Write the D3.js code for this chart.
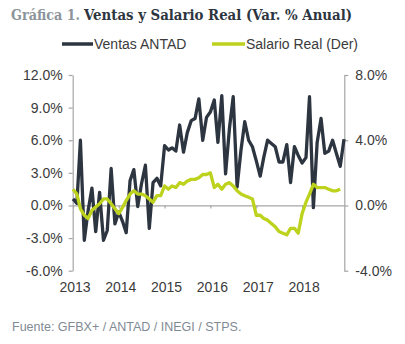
<!DOCTYPE html>
<html>
<head>
<meta charset="utf-8">
<script src="https://cdn.jsdelivr.net/npm/d3@7"></script>
<style>
  html, body { margin: 0; padding: 0; background: #ffffff; }
  svg { display: block; }
</style>
</head>
<body>
<svg id="chart" width="405" height="344"></svg>
<script>
// Monthly series, Jan 2013 onward (% annual change)
const startMonth = new Date(2013, 0, 1);

const ventasANTAD = [
  0.6, 0.2, 6.0, -3.2, -0.5, 1.6, -2.4, 1.2, -3.2, -2.3, 3.4, -1.7,
  -0.6, -1.5, -2.5, 2.3, 3.3, -0.1, 2.0, 3.7, -2.1, 2.1, 2.5, 1.8,
  5.5, 5.1, 5.3, 5.0, 7.4, 4.9, 6.7, 7.8, 8.0, 9.8, 6.0, 8.1,
  8.6, 9.7, 5.8, 10.1, 2.9, 7.1, 10.0, 1.7, 5.1, 7.7, 6.0, 5.4,
  4.1, 2.7, 4.4, 6.0, 5.7, 5.4, 4.0, 4.0, 5.6, 2.1, 5.4, 4.6,
  3.9, 4.4, 10.0, -0.2, 5.8, 8.0, 4.8, 5.0, 6.0, 4.8, 3.6, 6.1
];

const salarioReal = [
  1.0, 0.7, -0.2, -0.6, -0.8, -0.3, -0.1, 0.1, 0.4, 0.4, 0.1, -0.2,
  -0.5, -0.1, 0.3, 0.7, 0.9, 0.7, 0.7, 0.6, 0.4, 0.2, 0.6, 0.6,
  1.2, 1.0, 1.2, 1.1, 1.4, 1.3, 1.5, 1.6, 1.6, 1.7, 1.9, 1.9,
  2.0, 1.1, 1.3, 1.0, 1.3, 1.4, 1.2, 0.9, 0.7, 0.6, 0.5, 0.4,
  -0.6, -0.6, -0.8, -0.9, -1.1, -1.3, -1.6, -1.7, -1.8, -1.4, -1.4, -1.7,
  -0.5, 0.2, 0.7, 1.3, 1.1, 1.1, 1.1, 1.0, 0.9, 0.9, 1.0
];

const leftTicks = [-6, -3, 0, 3, 6, 9, 12];
const rightTicks = [-4, 0, 4, 8];
const yearLabels = [2013, 2014, 2015, 2016, 2017, 2018];

const seriesNames = ["Ventas ANTAD", "Salario Real (Der)"];
const titleLead = "Gráfica 1.";
const titleMain = "Ventas y Salario Real (Var. % Anual)";
const sourceText = "Fuente: GFBX+ / ANTAD / INEGI / STPS.";

const colDark = "#2d3540";
const colGreen = "#bcd21c";
const colAxis = "#a6a6a6";
const colText = "#3b3b3b";
const sansFont = "'Liberation Sans', Arial, sans-serif";
const serifFont = "'DejaVu Serif', 'Liberation Serif', serif";

const svg = d3.select("#chart");

const monthDate = i => d3.timeMonth.offset(startMonth, i);

const x = d3.scaleTime()
  .domain([startMonth, monthDate(71)])
  .range([73, 344]);
const yL = d3.scaleLinear().domain([-6, 12]).range([270.7, 75]);
const yR = d3.scaleLinear().domain([-4, 8]).range([270.7, 75]);

const pctFmt = d => d.toFixed(1) + "%";

// Title: grey lead-in followed by the dark main heading
svg.append("text")
  .attr("x", 11).attr("y", 20)
  .attr("font-family", serifFont)
  .attr("font-weight", "bold")
  .attr("font-size", 15)
  .attr("fill", "#8b949a")
  .attr("textLength", 69)
  .attr("lengthAdjust", "spacingAndGlyphs")
  .text(titleLead);
svg.append("text")
  .attr("x", 84).attr("y", 20)
  .attr("font-family", serifFont)
  .attr("font-weight", "bold")
  .attr("font-size", 15)
  .attr("fill", "#2d3540")
  .attr("textLength", 268)
  .attr("lengthAdjust", "spacingAndGlyphs")
  .text(titleMain);

// Legend
const legend = svg.append("g").attr("font-family", sansFont).attr("font-size", 14).attr("fill", colText);
const legendItems = [
  { name: seriesNames[0], color: colDark, x0: 62, x1: 93 },
  { name: seriesNames[1], color: colGreen, x0: 212, x1: 245 }
];
legendItems.forEach(it => {
  legend.append("line")
    .attr("x1", it.x0).attr("x2", it.x1)
    .attr("y1", 44).attr("y2", 44)
    .attr("stroke", it.color).attr("stroke-width", 3.5);
  legend.append("text")
    .attr("x", it.x1 + 1).attr("y", 49)
    .text(it.name);
});

// Left axis
const axL = svg.append("g")
  .attr("transform", "translate(72.7,0)")
  .call(d3.axisLeft(yL).tickValues(leftTicks).tickFormat(pctFmt).tickSize(4).tickSizeOuter(0).tickPadding(6));

// Right axis
const axR = svg.append("g")
  .attr("transform", "translate(344.3,0)")
  .call(d3.axisRight(yR).tickValues(rightTicks).tickFormat(pctFmt).tickSize(4).tickSizeOuter(0).tickPadding(7));

[axL, axR].forEach(ax => {
  ax.select(".domain").attr("stroke", colAxis).attr("stroke-width", 1.2);
  ax.selectAll(".tick line").attr("stroke", colAxis).attr("stroke-width", 1.2);
  ax.selectAll(".tick text")
    .attr("fill", colText)
    .attr("font-family", sansFont)
    .attr("font-size", 14);
});

// Zero line with yearly ticks
const yearDates = yearLabels.map(y => new Date(y, 0, 1));
const axZero = svg.append("g")
  .attr("transform", `translate(0,${yL(0)})`)
  .call(d3.axisBottom(x).tickValues(yearDates).tickFormat("").tickSize(3).tickSizeOuter(0));
axZero.select(".domain").attr("stroke", colAxis).attr("stroke-width", 1.2)
  .attr("d", `M72.7,0.5H344.3`);
axZero.selectAll(".tick line").attr("stroke", colAxis).attr("stroke-width", 1.2);

// Year labels along the bottom
const axYears = svg.append("g")
  .attr("transform", "translate(1.5,277)")
  .call(d3.axisBottom(x).tickValues(yearDates).tickFormat(d3.timeFormat("%Y")).tickSize(0).tickPadding(5));
axYears.select(".domain").remove();
axYears.selectAll(".tick text")
  .attr("fill", colText)
  .attr("font-family", sansFont)
  .attr("font-size", 14);

// Series lines
const lineL = d3.line().x((d, i) => x(monthDate(i))).y(d => yL(d));
const lineR = d3.line().x((d, i) => x(monthDate(i))).y(d => yR(d));

svg.append("path")
  .datum(ventasANTAD)
  .attr("d", lineL)
  .attr("fill", "none")
  .attr("stroke", colDark)
  .attr("stroke-width", 3.3)
  .attr("stroke-linejoin", "round");

svg.append("path")
  .datum(salarioReal)
  .attr("d", lineR)
  .attr("fill", "none")
  .attr("stroke", colGreen)
  .attr("stroke-width", 3.3)
  .attr("stroke-linejoin", "round");

// Source note
svg.append("text")
  .attr("x", 12).attr("y", 331)
  .attr("font-family", sansFont)
  .attr("font-size", 12.5)
  .attr("fill", "#7f8a93")
  .text(sourceText);
</script>
</body>
</html>
